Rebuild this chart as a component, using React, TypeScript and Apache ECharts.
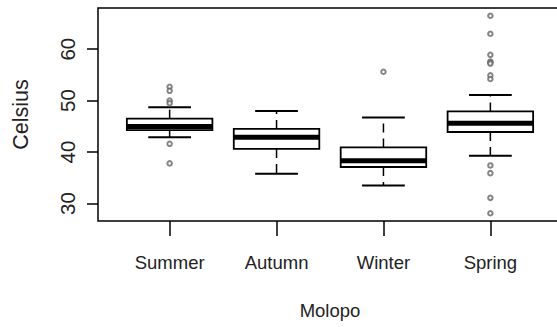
import React, { useEffect, useRef } from "react";
import * as echarts from "echarts";

const categories = ["Summer", "Autumn", "Winter", "Spring"];
const lowerWhisker = [42.9, 35.8, 33.5, 39.3];
const q1 = [44.25, 40.6, 37.1, 43.9];
const median = [44.95, 42.9, 38.3, 45.6];
const q3 = [46.5, 44.5, 40.9, 47.9];
const upperWhisker = [48.7, 48.0, 46.7, 51.1];
const outliers: number[][] = [
  [52.7, 51.9, 50.0, 49.5, 41.6, 37.8],
  [],
  [55.6],
  [66.5, 63.0, 58.9, 57.6, 57.4, 57.2, 54.9, 54.2, 37.4, 35.9, 31.1, 28.1],
];
const yTicks = [30, 40, 50, 60];
const xTicks = [1, 2, 3, 4];
const xTitle = "Molopo";
const yTitle = "Celsius";

const FONT = "'Liberation Sans', Arial, sans-serif";

export default function App() {
  const ref = useRef<HTMLDivElement>(null);
  useEffect(() => {
    if (!ref.current) return;
    const chart = echarts.init(ref.current, null, { renderer: "svg" });
    const boxData = categories.map((_, i) => [
      i + 1,
      lowerWhisker[i],
      q1[i],
      median[i],
      q3[i],
      upperWhisker[i],
    ]);
    const outData: number[][] = [];
    outliers.forEach((arr, i) => arr.forEach((v) => outData.push([i + 1, v])));

    chart.setOption({
      animation: false,
      backgroundColor: "#fff",
      grid: {
        left: 98,
        top: 8,
        width: 464,
        height: 213,
        show: true,
        borderColor: "#000",
        borderWidth: 1.5,
        backgroundColor: "transparent",
        containLabel: false,
        outerBoundsMode: "none",
      },
      xAxis: {
        type: "value",
        min: 0.33,
        max: 4.67,
        splitLine: { show: false },
        axisLine: { show: false },
        axisTick: {
          show: true,
          customValues: xTicks,
          length: 15,
          lineStyle: { color: "#000", width: 1.5 },
        },
        axisLabel: {
          customValues: xTicks,
          formatter: (v: number) => categories[Math.round(v) - 1] ?? "",
          fontSize: 18.5,
          margin: 32,
          color: "#222",
          fontFamily: FONT,
        },
        name: xTitle,
        nameLocation: "middle",
        nameGap: 80,
        nameTextStyle: { fontSize: 18.5, color: "#222", fontFamily: FONT },
      },
      yAxis: {
        type: "value",
        min: 26.6,
        max: 68,
        splitLine: { show: false },
        axisLine: { show: false },
        axisTick: {
          show: true,
          customValues: yTicks,
          length: 11,
          lineStyle: { color: "#000", width: 1.5 },
        },
        axisLabel: {
          customValues: yTicks,
          rotate: 90,
          fontSize: 20.5,
          margin: 20,
          color: "#222",
          fontFamily: FONT,
        },
        name: yTitle,
        nameLocation: "middle",
        nameRotate: 90,
        nameGap: 66,
        nameTextStyle: { fontSize: 21.5, color: "#222", fontFamily: FONT },
      },
      series: [
        {
          type: "custom",
          data: boxData,
          encode: { x: 0, y: [1, 2, 3, 4, 5] },
          renderItem: (params: any, api: any) => {
            const x = api.value(0);
            const lo = api.coord([x, api.value(1)]);
            const b1 = api.coord([x, api.value(2)]);
            const md = api.coord([x, api.value(3)]);
            const b3 = api.coord([x, api.value(4)]);
            const hi = api.coord([x, api.value(5)]);
            const halfW = api.size([0.4, 0])[0];
            const capHalf = api.size([0.2, 0])[0];
            const cx = lo[0];
            const stroke = "#000";
            return {
              type: "group",
              children: [
                {
                  type: "line",
                  shape: { x1: cx, y1: b3[1], x2: cx, y2: hi[1] },
                  style: { stroke, lineWidth: 1.5, lineDash: [9, 6] },
                },
                {
                  type: "line",
                  shape: { x1: cx, y1: b1[1], x2: cx, y2: lo[1] },
                  style: { stroke, lineWidth: 1.5, lineDash: [9, 6] },
                },
                {
                  type: "line",
                  shape: { x1: cx - capHalf, y1: hi[1], x2: cx + capHalf, y2: hi[1] },
                  style: { stroke, lineWidth: 2 },
                },
                {
                  type: "line",
                  shape: { x1: cx - capHalf, y1: lo[1], x2: cx + capHalf, y2: lo[1] },
                  style: { stroke, lineWidth: 2 },
                },
                {
                  type: "rect",
                  shape: { x: cx - halfW, y: b3[1], width: halfW * 2, height: b1[1] - b3[1] },
                  style: { fill: "#fff", stroke, lineWidth: 1.8 },
                },
                {
                  type: "line",
                  shape: { x1: cx - halfW, y1: md[1], x2: cx + halfW, y2: md[1] },
                  style: { stroke, lineWidth: 5 },
                },
              ],
            };
          },
          z: 2,
        },
        {
          type: "scatter",
          data: outData,
          symbol: "emptyCircle",
          symbolSize: 4.5,
          itemStyle: { color: "#666", borderColor: "#666", borderWidth: 1 },
          z: 3,
        },
      ],
    });
    return () => chart.dispose();
  }, []);
  return (
    <div
      ref={ref}
      style={{ position: "fixed", left: 0, top: 0, width: 557, height: 327, background: "#fff" }}
    />
  );
}
